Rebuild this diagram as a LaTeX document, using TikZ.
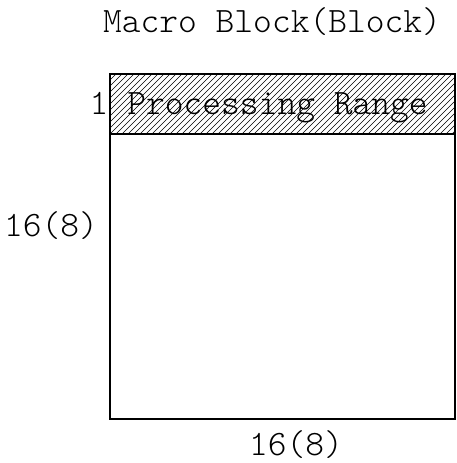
\documentclass[tikz,border=0pt]{standalone}
\usepackage{fontspec}
\setmonofont{Latin Modern Mono Light}
\usetikzlibrary{positioning}
\tikzset{
  lbl/.style={font=\fontsize{26.8}{30}\selectfont\ttfamily, inner sep=0pt, anchor=base},
  hatch/.style={line width=0.5},
}
\begin{document}
\begin{tikzpicture}[x=0.75pt,y=0.75pt,yscale=-1,xscale=1]
    \useasboundingbox (0,0) rectangle (456,463);
    % hatched processing range
    \begin{scope}
        \clip (110,74) rectangle (455,134);
        \foreach \x in {44,50,...,470}
            \draw [hatch] (\x,134) -- (\x+60,74);
    \end{scope}
    \draw [line width=0.9] (110,74) rectangle (455,419);
    \draw [line width=0.9] (110,134) -- (455,134);
    \node [lbl] (title) at (272,33) {Macro Block(Block)};
    \node [lbl] (range) at (277.5,115) {Processing Range};
    \node [lbl] (rows) at (99,115) {1};
    \node [lbl] (height) at (51,236) {16(8)};
    \node [lbl] (width) at (296,455) {16(8)};
\end{tikzpicture}
\end{document}
